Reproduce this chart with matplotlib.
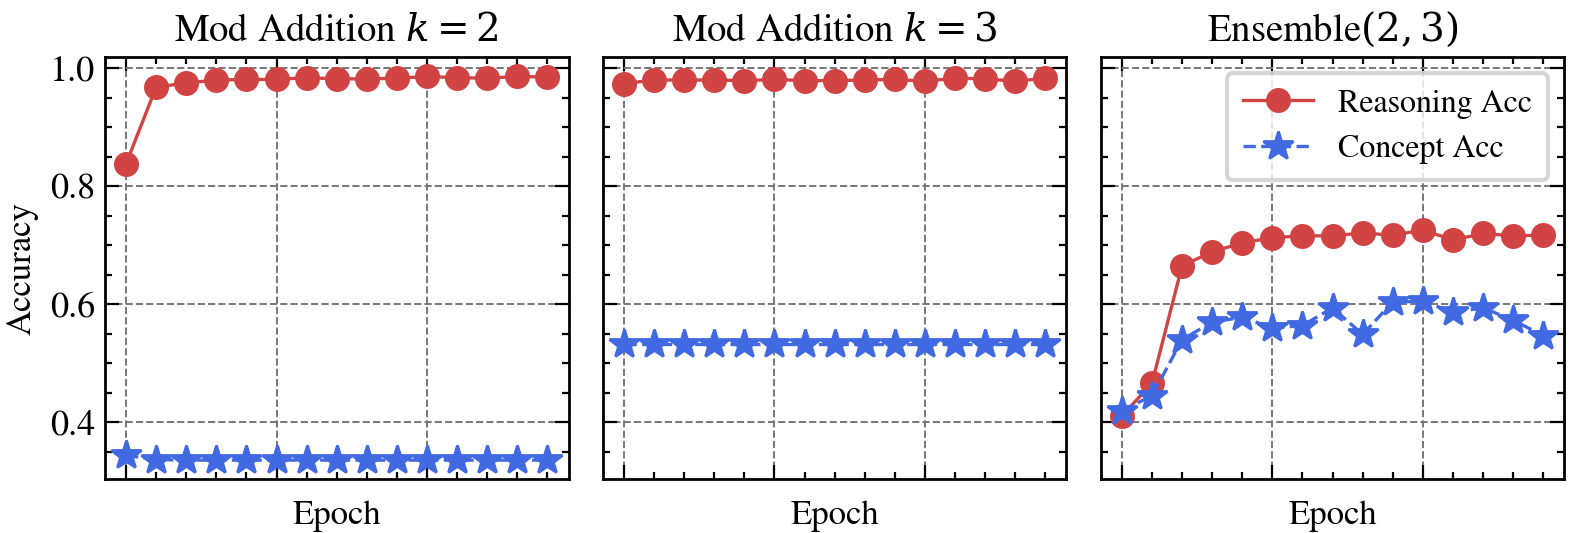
import matplotlib
matplotlib.use("Agg")
import matplotlib.pyplot as plt
from matplotlib.ticker import MultipleLocator, NullFormatter

# Data
epochs = list(range(15))

titles = [r"Mod Addition $k=2$", r"Mod Addition $k=3$", r"Ensemble$(2,3)$"]

reasoning_k2 = [0.838, 0.968, 0.975, 0.980, 0.981, 0.981, 0.984, 0.982,
                0.982, 0.983, 0.986, 0.984, 0.983, 0.986, 0.985]
concept_k2 = [0.344, 0.337, 0.336, 0.336, 0.336, 0.336, 0.336, 0.336,
              0.336, 0.336, 0.336, 0.336, 0.336, 0.336, 0.336]

reasoning_k3 = [0.974, 0.980, 0.980, 0.980, 0.979, 0.981, 0.979, 0.979,
                0.980, 0.981, 0.978, 0.983, 0.982, 0.978, 0.983]
concept_k3 = [0.532, 0.532, 0.532, 0.532, 0.532, 0.532, 0.532, 0.532,
              0.532, 0.532, 0.532, 0.532, 0.532, 0.532, 0.532]

reasoning_ens = [0.411, 0.466, 0.665, 0.689, 0.704, 0.713, 0.716, 0.716,
                 0.721, 0.717, 0.726, 0.709, 0.720, 0.716, 0.717]
concept_ens = [0.420, 0.445, 0.540, 0.570, 0.578, 0.560, 0.564, 0.594,
               0.549, 0.604, 0.605, 0.587, 0.594, 0.573, 0.547]

panels = [
    (reasoning_k2, concept_k2),
    (reasoning_k3, concept_k3),
    (reasoning_ens, concept_ens),
]

RED = "#d24444"
BLUE = "#4169e1"

# Times-like text (STIX ships with matplotlib), DejaVu Serif for math
plt.rcParams["font.family"] = ["STIXGeneral", "DejaVu Serif"]
plt.rcParams["mathtext.fontset"] = "dejavuserif"
plt.rcParams["font.size"] = 13
plt.rcParams["axes.linewidth"] = 1.0


def style_axis(ax):
    # scienceplots-like ticks: inward, on all four sides
    ax.xaxis.set_major_locator(MultipleLocator(5))
    ax.xaxis.set_minor_locator(MultipleLocator(1))
    ax.yaxis.set_major_locator(MultipleLocator(0.2))
    ax.yaxis.set_minor_locator(MultipleLocator(0.05))
    ax.xaxis.set_major_formatter(NullFormatter())
    ax.tick_params(which="both", direction="in", top=True, right=True, width=0.8)
    ax.tick_params(which="major", length=5)
    ax.tick_params(which="minor", length=2.5)
    ax.grid(True, which="major", linestyle="--", color="#777777", linewidth=0.7)
    ax.set_axisbelow(True)


fig, axes = plt.subplots(1, 3, figsize=(7.88, 2.665), dpi=200, sharey=True)
fig.subplots_adjust(left=0.0666, right=0.9926, top=0.8925, bottom=0.1007, wspace=0.074)

for ax, title, (reas, conc) in zip(axes, titles, panels):
    ax.plot(epochs, reas, color=RED, marker="o", markersize=8, linewidth=1.2,
            label="Reasoning Acc")
    ax.plot(epochs, conc, color=BLUE, marker="*", markersize=11, linewidth=1.2,
            linestyle="--", label="Concept Acc")
    ax.set_title(title, fontsize=14)
    ax.set_xlabel("Epoch", fontsize=12.5)
    style_axis(ax)

axes[0].set_ylabel("Accuracy", fontsize=12.5)
for ax in axes[1:]:
    ax.tick_params(labelleft=False)

leg = axes[2].legend(loc="upper right", fontsize=11.5, fancybox=True, framealpha=0.8,
                     handlelength=2.2, borderpad=0.5)
leg.get_frame().set_linewidth(1.5)

plt.savefig("out.png", dpi=200)
